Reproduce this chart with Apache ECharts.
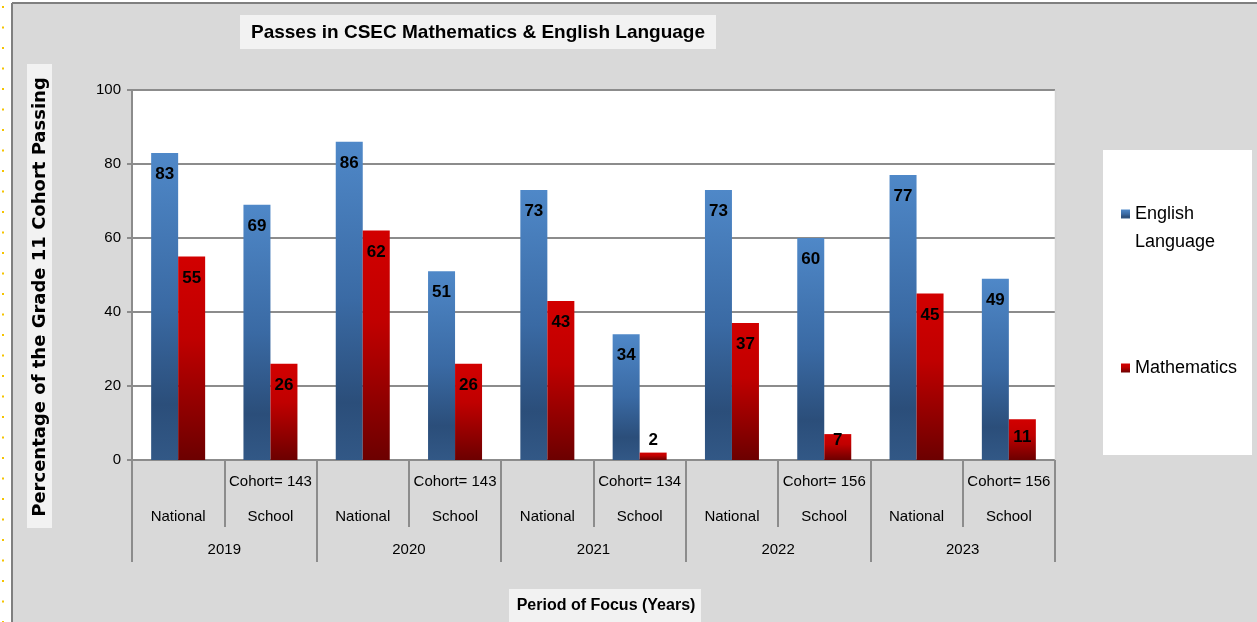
<!DOCTYPE html>
<html>
<head>
<meta charset="utf-8">
<script src="https://cdn.jsdelivr.net/npm/echarts@6/dist/echarts.min.js"></script>
<style>
html,body{margin:0;padding:0;background:#fff;}
#chart{width:1257px;height:622px;}
</style>
</head>
<body>
<div id="chart"></div>
<script>
const groups = ['National', 'School', 'National', 'School', 'National', 'School', 'National', 'School', 'National', 'School'];
const years = ['2019', '2020', '2021', '2022', '2023'];
const cohorts = [143, 143, 134, 156, 156];
const english = [83, 69, 86, 51, 73, 34, 73, 60, 77, 49];
const maths = [55, 26, 62, 26, 43, 2, 37, 7, 45, 11];
const seriesNames = ['English Language', 'Mathematics'];
const titleText = 'Passes in CSEC Mathematics & English Language';
const yName = 'Percentage of the Grade 11 Cohort Passing';
const xName = 'Period of Focus (Years)';

const FONT = "'Liberation Sans', Arial, sans-serif";
const catLabels = groups.map((g, i) => g === 'School' ? ('Cohort= ' + cohorts[Math.floor(i / 2)] + '\n' + g) : ('\n' + g));

const blueGrad = new echarts.graphic.LinearGradient(0, 0, 0, 1, [
  { offset: 0, color: '#4f88c8' },
  { offset: 0.5, color: '#3a6aa4' },
  { offset: 0.82, color: '#2b4e7a' },
  { offset: 1, color: '#325886' }
]);
const redGrad = new echarts.graphic.LinearGradient(0, 0, 0, 1, [
  { offset: 0, color: '#d20000' },
  { offset: 0.4, color: '#c00000' },
  { offset: 1, color: '#6c0000' }
]);

const labelBase = {
  show: true,
  position: 'insideTop',
  distance: 13,
  color: '#000',
  fontFamily: FONT,
  fontWeight: 'bold',
  fontSize: 17
};
function makeData(arr) {
  return arr.map(v => {
    if (v < 5) return { value: v, label: { position: 'top', distance: 4 } };
    if (v < 9) return { value: v, label: { distance: -2 } };
    if (v < 15) return { value: v, label: { distance: 10 } };
    return v;
  });
}

const chart = echarts.init(document.getElementById('chart'));
chart.setOption({
  backgroundColor: '#ffffff',
  animation: false,
  title: {
    text: titleText,
    left: 240,
    top: 15,
    padding: [8, 11, 7, 11],
    backgroundColor: '#f2f2f2',
    textStyle: { fontFamily: FONT, fontWeight: 'bold', fontSize: 19, color: '#000' }
  },
  graphic: [
    { type: 'rect', silent: true, z: -10, shape: { x: 12, y: 4, width: 1245, height: 618 }, style: { fill: '#d9d9d9' } },
    { type: 'line', silent: true, z: -9, shape: { x1: 12, y1: 3, x2: 1257, y2: 3 }, style: { stroke: '#7f7f7f', lineWidth: 2 } },
    { type: 'line', silent: true, z: -9, shape: { x1: 12, y1: 3, x2: 12, y2: 622 }, style: { stroke: '#7f7f7f', lineWidth: 2 } },
    { type: 'line', silent: true, z: -9, shape: { x1: 3, y1: 6, x2: 3, y2: 622 }, style: { stroke: '#f5c400', lineWidth: 2, lineDash: [2, 18.5] } },
    { type: 'rect', silent: true, z: -8, shape: { x: 1103, y: 150, width: 149, height: 305 }, style: { fill: '#ffffff' } },
    { type: 'line', silent: true, z: 1, shape: { x1: 1055.5, y1: 90, x2: 1055.5, y2: 460 }, style: { stroke: '#d4d4d4', lineWidth: 1.5 } },
    { type: 'rect', silent: true, z: -8, shape: { x: 27, y: 64, width: 25, height: 464 }, style: { fill: '#f2f2f2' } },
    {
      type: 'text', silent: true, z: 5, x: 40, y: 297, rotation: Math.PI / 2,
      style: { text: yName, fill: '#000', font: "bold 18px 'DejaVu Sans', sans-serif", align: 'center', verticalAlign: 'middle' }
    },
    { type: 'rect', silent: true, z: -8, shape: { x: 509, y: 589, width: 192, height: 33 }, style: { fill: '#f2f2f2' } },
    {
      type: 'text', silent: true, z: 5, x: 606, y: 606,
      style: { text: xName, fill: '#000', font: "bold 16px " + FONT, align: 'center', verticalAlign: 'middle' }
    }
  ],
  legend: [
    {
      data: [seriesNames[0]],
      orient: 'vertical', left: 1121, top: 172, padding: 0,
      itemWidth: 9, itemHeight: 9, icon: 'rect',
      formatter: n => '\n' + n.replace(' ', '\n'),
      textStyle: { fontFamily: FONT, fontSize: 18, color: '#000', lineHeight: 28 }
    },
    {
      data: [seriesNames[1]],
      orient: 'vertical', left: 1121, top: 354, padding: 0,
      itemWidth: 9, itemHeight: 9, icon: 'rect',
      textStyle: { fontFamily: FONT, fontSize: 18, color: '#000', lineHeight: 28 }
    }
  ],
  grid: { left: 132, right: 202, top: 90, bottom: 162, show: true, backgroundColor: '#ffffff', borderWidth: 0, containLabel: false },
  xAxis: [
    {
      type: 'category', data: catLabels, position: 'bottom',
      axisLine: { show: true, lineStyle: { color: '#8c8c8c', width: 2 } },
      axisTick: { show: true, length: 67, interval: 0, lineStyle: { color: '#8c8c8c', width: 2 } },
      axisLabel: { interval: 0, margin: 4, fontFamily: FONT, fontSize: 15, color: '#000', lineHeight: 35 },
      splitLine: { show: false }
    },
    {
      type: 'category', data: years, position: 'bottom',
      axisLine: { show: false },
      axisTick: { show: true, length: 102, interval: 0, lineStyle: { color: '#8c8c8c', width: 2 } },
      axisLabel: { interval: 0, margin: 80, fontFamily: FONT, fontSize: 15, color: '#000', lineHeight: 20 },
      splitLine: { show: false }
    }
  ],
  yAxis: {
    type: 'value', min: 0, max: 100, interval: 20,
    axisLine: { show: true, lineStyle: { color: '#8c8c8c', width: 2 } },
    axisTick: { show: true, length: 5, lineStyle: { color: '#8c8c8c', width: 2 } },
    axisLabel: { margin: 11, fontFamily: FONT, fontSize: 15, color: '#000' },
    splitLine: { show: true, lineStyle: { color: '#8c8c8c', width: 2 } }
  },
  series: [
    {
      name: seriesNames[0], type: 'bar', xAxisIndex: 0, barWidth: 27, barGap: '0%',
      itemStyle: { color: blueGrad },
      label: labelBase,
      data: makeData(english)
    },
    {
      name: seriesNames[1], type: 'bar', xAxisIndex: 0, barWidth: 27, barGap: '0%',
      itemStyle: { color: redGrad },
      label: labelBase,
      data: makeData(maths)
    }
  ]
});
</script>
</body>
</html>
